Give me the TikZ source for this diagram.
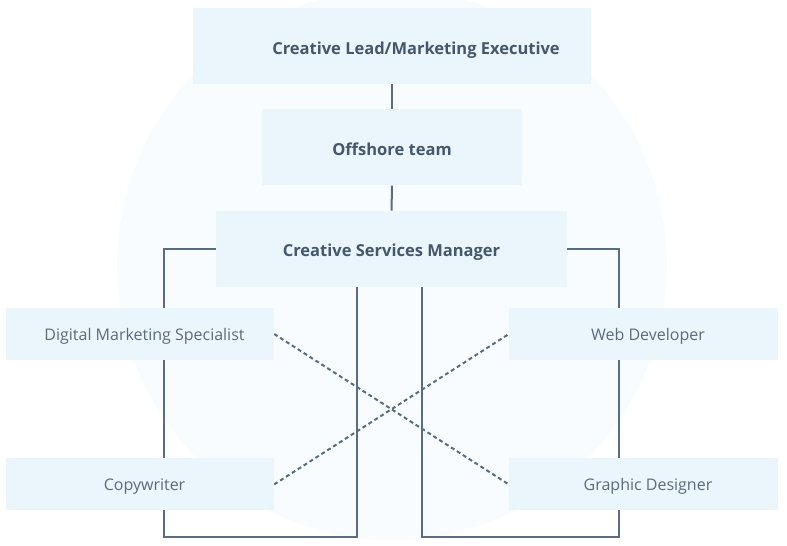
\documentclass[tikz,border=0pt]{standalone}
\usepackage{fontspec}
\setmainfont{Open Sans}
\usepackage{tikz}
\usetikzlibrary{positioning,backgrounds}

\definecolor{boxfill}{HTML}{EAF5FC}
\definecolor{circfill}{HTML}{F8FCFE}
\definecolor{linkcol}{HTML}{586D83}
\definecolor{headcol}{HTML}{44576C}
\definecolor{rolecol}{HTML}{5C6B7B}

\begin{document}
\begin{tikzpicture}[x=1pt,y=-1pt,node distance=25pt,
  headbox/.style={fill=boxfill,minimum height=76pt,inner sep=0pt},
  headtext/.style={font=\fontsize{16.5}{19}\selectfont\bfseries,text=headcol,
    text height=16pt,text depth=0pt},
  rolebox/.style={fill=boxfill,minimum width=268pt,minimum height=52pt,inner sep=0pt,
    font=\fontsize{16}{19}\selectfont,text=rolecol,text height=14pt,text depth=2pt,
    execute at begin node=\hspace*{9pt}},
  link/.style={draw=linkcol,line width=2pt},
  dotlink/.style={link,dash pattern=on 4pt off 3pt}]
\useasboundingbox (0,0) rectangle (787,546);
\node[headbox,minimum width=398pt] (Lead) at (392,46) {};
\node[headtext] (LeadText) at ([xshift=24pt]Lead.center) {Creative Lead/Marketing Executive};
\node[headbox,headtext,minimum width=260pt] (Offshore) [below=of Lead] {Offshore team};
\node[headbox,headtext,minimum width=351pt,xshift=-0.5pt] (CSM) [below=of Offshore] {Creative Services Manager};
\node[rolebox] (DMS) at (140,334) {Digital Marketing Specialist};
\node[rolebox] (Copy) [below=98pt of DMS] {Copywriter};
\node[rolebox,minimum width=269pt] (Web) at (643.5,334) {Web Developer};
\node[rolebox,minimum width=269pt] (Graphic) [below=98pt of Web] {Graphic Designer};
\coordinate (LeftFoot) at (164,537);
\coordinate (LeftUp) at (357,286);
\coordinate (RightFoot) at (619,537);
\coordinate (RightUp) at (422,286);
\begin{scope}[on background layer]
  \begin{scope}
    \clip (0,0) rectangle (787,546);
    \fill[circfill] (392,265) circle (275pt);
  \end{scope}
  \path[link]
    (Lead) edge (Offshore)
    (Offshore) edge (CSM);
  \draw[link] (CSM.west) -| (LeftFoot) -| (LeftUp);
  \draw[link] (CSM.east) -| (RightFoot) -| (RightUp);
  \draw[dotlink] (DMS.east) -- (Graphic.west);
  \draw[dotlink] (Copy.east) -- (Web.west);
\end{scope}
\end{tikzpicture}
\end{document}
